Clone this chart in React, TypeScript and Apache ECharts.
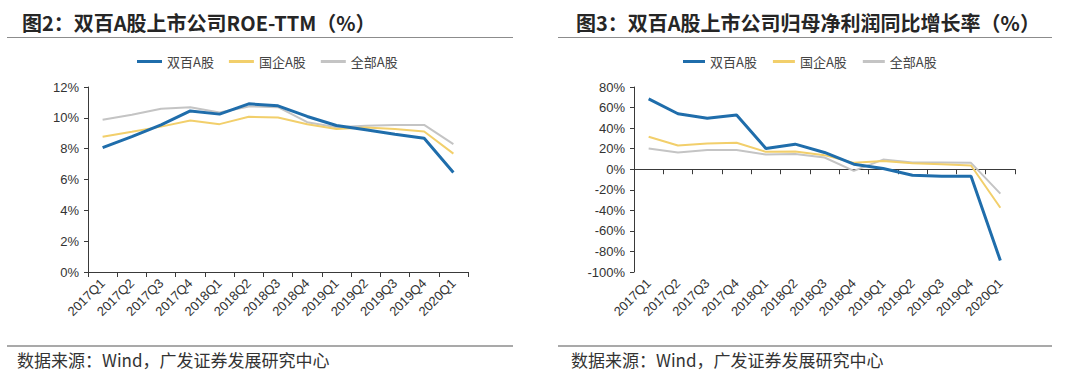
import React, { useEffect, useRef } from "react";
import * as echarts from "echarts";

const categories = ["2017Q1","2017Q2","2017Q3","2017Q4","2018Q1","2018Q2","2018Q3","2018Q4","2019Q1","2019Q2","2019Q3","2019Q4","2020Q1"];
const seriesNames = ["双百A股", "国企A股", "全部A股"];

// Figure 2: ROE-TTM (%)
const roeShuangbai = [8.07, 8.78, 9.54, 10.45, 10.24, 10.91, 10.78, 10.09, 9.5, 9.22, 8.94, 8.68, 6.46];
const roeGuoqi = [8.78, 9.1, 9.43, 9.83, 9.59, 10.07, 10.02, 9.59, 9.28, 9.37, 9.28, 9.11, 7.68];
const roeQuanbu = [9.87, 10.2, 10.59, 10.69, 10.35, 10.74, 10.69, 9.72, 9.39, 9.48, 9.54, 9.54, 8.29];

// Figure 3: net profit YoY growth (%)
const growthShuangbai = [68.4, 54, 49.5, 52.8, 20.2, 24.4, 16.3, 4.9, 0.7, -5.9, -6.8, -6.8, -88.9];
const growthGuoqi = [31.6, 23.1, 25.1, 25.7, 16.9, 17.3, 13.7, 6.2, 8.1, 5.9, 4.9, 3.6, -37.5];
const growthQuanbu = [20.2, 16.3, 18.6, 18.6, 14.3, 14.7, 11.4, -1.6, 9.4, 6.5, 6.5, 6.2, -23.8];

const titles = ["图2：双百A股上市公司ROE-TTM（%）", "图3：双百A股上市公司归母净利润同比增长率（%）"];
const sourceText = "数据来源：Wind，广发证券发展研究中心";

const COLORS = ["#1f6dab", "#f2cf6b", "#c4c4c4"];
const WIDTHS = [3, 2, 2];
const FONT = "'Liberation Sans', Arial, 'Noto Sans CJK SC', sans-serif";
const CJK = "'Noto Sans CJK SC', sans-serif";
const AXIS_COLOR = "#3a3a3a";
const LABEL_COLOR = "#333";

export default function App() {
  const ref = useRef<HTMLDivElement>(null);
  useEffect(() => {
    if (!ref.current) return;
    const chart = echarts.init(ref.current, null, { renderer: "svg" });

    const mkSeries = (data: number[], i: number, xIdx: number, yIdx: number) => ({
      type: "line",
      name: seriesNames[i],
      data,
      xAxisIndex: xIdx,
      yAxisIndex: yIdx,
      symbol: "none",
      showSymbol: false,
      smooth: false,
      lineStyle: { color: COLORS[i], width: WIDTHS[i] },
      itemStyle: { color: COLORS[i] },
      z: 3 - i,
    });

    const legendData = seriesNames.map((n, i) => ({ name: n, icon: "rect", itemStyle: { color: COLORS[i] } }));

    const xLabel = {
      rotate: 45,
      fontSize: 13,
      color: LABEL_COLOR,
      fontFamily: FONT,
      interval: 0,
      margin: 9,
    };

    const titleStyle = { fontSize: 20, fontWeight: "bold", color: "#262626", fontFamily: CJK };

    const option: any = {
      animation: false,
      backgroundColor: "#ffffff",
      title: [
        { text: titles[0], left: 17, top: 7, textStyle: titleStyle },
        { text: titles[1], left: 571, top: 7, textStyle: titleStyle },
      ],
      legend: [
        {
          data: legendData,
          left: 132,
          top: 50,
          itemWidth: 25,
          itemHeight: 3,
          itemGap: 15,
          textStyle: { fontSize: 13, color: "#444", fontFamily: CJK },
        },
        {
          data: legendData,
          left: 678,
          top: 50,
          itemWidth: 22,
          itemHeight: 3,
          itemGap: 16,
          textStyle: { fontSize: 13, color: "#444", fontFamily: CJK },
        },
      ],
      grid: [
        { left: 88, top: 87, width: 380, height: 185, containLabel: false },
        { left: 634, top: 87, width: 381, height: 185, containLabel: false },
      ],
      xAxis: [
        {
          type: "category",
          gridIndex: 0,
          data: categories,
          boundaryGap: true,
          axisLine: { lineStyle: { color: AXIS_COLOR, width: 1 } },
          axisTick: { show: true, length: 5, interval: 0, lineStyle: { color: AXIS_COLOR } },
          axisLabel: xLabel,
          splitLine: { show: false },
        },
        {
          type: "category",
          gridIndex: 1,
          data: categories,
          boundaryGap: true,
          axisLine: { onZero: true, lineStyle: { color: AXIS_COLOR, width: 1 } },
          axisTick: { show: true, length: 5, interval: 0, lineStyle: { color: AXIS_COLOR } },
          axisLabel: { show: false },
          splitLine: { show: false },
        },
        {
          type: "category",
          gridIndex: 1,
          data: categories,
          boundaryGap: true,
          position: "bottom",
          axisLine: { show: false, onZero: false },
          axisTick: { show: false },
          axisLabel: xLabel,
          splitLine: { show: false },
        },
      ],
      yAxis: [
        {
          type: "value",
          gridIndex: 0,
          min: 0,
          max: 12,
          interval: 2,
          axisLine: { show: true, lineStyle: { color: AXIS_COLOR } },
          axisTick: { show: true, length: 4, lineStyle: { color: AXIS_COLOR } },
          axisLabel: { formatter: "{value}%", fontSize: 13, color: LABEL_COLOR, fontFamily: FONT, margin: 9 },
          splitLine: { show: false },
        },
        {
          type: "value",
          gridIndex: 1,
          min: -100,
          max: 80,
          interval: 20,
          axisLine: { show: true, lineStyle: { color: AXIS_COLOR } },
          axisTick: { show: true, length: 4, lineStyle: { color: AXIS_COLOR } },
          axisLabel: { formatter: "{value}%", fontSize: 13, color: LABEL_COLOR, fontFamily: FONT, margin: 9 },
          splitLine: { show: false },
        },
      ],
      series: [
        mkSeries(roeQuanbu, 2, 0, 0),
        mkSeries(roeGuoqi, 1, 0, 0),
        mkSeries(roeShuangbai, 0, 0, 0),
        mkSeries(growthQuanbu, 2, 1, 1),
        mkSeries(growthGuoqi, 1, 1, 1),
        mkSeries(growthShuangbai, 0, 1, 1),
      ],
      graphic: [
        { type: "line", shape: { x1: 7, y1: 37.5, x2: 513, y2: 37.5 }, style: { stroke: "#8c8c8c", lineWidth: 1 } },
        { type: "line", shape: { x1: 558, y1: 37.5, x2: 1052, y2: 37.5 }, style: { stroke: "#8c8c8c", lineWidth: 1 } },
        { type: "line", shape: { x1: 7, y1: 346, x2: 513, y2: 346 }, style: { stroke: "#8c8c8c", lineWidth: 1.5 } },
        { type: "line", shape: { x1: 558, y1: 346, x2: 1052, y2: 346 }, style: { stroke: "#8c8c8c", lineWidth: 1.5 } },
        { type: "text", x: 17, y: 351, style: { text: sourceText, fontSize: 17, fill: "#333", fontFamily: CJK } },
        { type: "text", x: 571, y: 351, style: { text: sourceText, fontSize: 17, fill: "#333", fontFamily: CJK } },
      ],
    };
    chart.setOption(option);
    return () => chart.dispose();
  }, []);

  return (
    <div
      ref={ref}
      style={{ position: "fixed", left: 0, top: 0, width: 1080, height: 381, background: "#fff" }}
    />
  );
}
